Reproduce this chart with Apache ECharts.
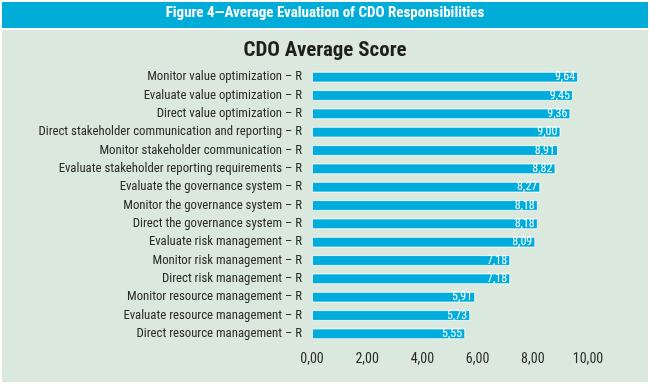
<!DOCTYPE html>
<html><head><meta charset="utf-8">
<script src="https://cdn.jsdelivr.net/npm/echarts@6/dist/echarts.min.js"></script>
<style>html,body{margin:0;padding:0;background:#fff}#c{width:650px;height:386px}</style>
</head><body><div id="c"></div>
<script>
const categories = [
  "Monitor value optimization – R",
  "Evaluate value optimization – R",
  "Direct value optimization – R",
  "Direct stakeholder communication and reporting – R",
  "Monitor stakeholder communication – R",
  "Evaluate stakeholder reporting requirements – R",
  "Evaluate the governance system – R",
  "Monitor the governance system – R",
  "Direct the governance system – R",
  "Evaluate risk management – R",
  "Monitor risk management – R",
  "Direct risk management – R",
  "Monitor resource management – R",
  "Evaluate resource management – R",
  "Direct resource management – R"
];
const scores = [9.64, 9.45, 9.36, 9.00, 8.91, 8.82, 8.27, 8.18, 8.18, 8.09, 7.18, 7.18, 5.91, 5.73, 5.55];
const xTicks = [0, 2, 4, 6, 8, 10];
const headerText = "Figure 4—Average Evaluation of CDO Responsibilities";
const titleText = "CDO Average Score";

const fmt = v => v.toFixed(2).replace('.', ',');
const FONT = '"Roboto Condensed","Liberation Sans Narrow","Roboto",sans-serif';

const chart = echarts.init(document.getElementById('c'), null, {renderer: 'canvas'});
chart.setOption({
  backgroundColor: '#ffffff',
  animation: false,
  graphic: [
    {type: 'rect', shape: {x: 2, y: 2, width: 646, height: 26}, style: {fill: '#00acd8'}, z: -10},
    {type: 'rect', shape: {x: 2, y: 30, width: 646, height: 352}, style: {fill: '#dae8dd'}, z: -10},
    {type: 'text', left: 'center', top: 6, style: {text: headerText, fill: '#ffffff', font: 'bold 15px ' + FONT}, z: 10}
  ],
  title: {
    text: titleText, left: 'center', top: 35,
    textStyle: {fontFamily: FONT, fontSize: 21, fontWeight: 'bold', color: '#1e1e1e'}
  },
  grid: {left: 312, right: 62, top: 68, bottom: 43, containLabel: false},
  xAxis: {
    type: 'value', min: xTicks[0], max: xTicks[xTicks.length - 1], interval: 2,
    axisLine: {show: false}, axisTick: {show: false}, splitLine: {show: false},
    axisLabel: {formatter: fmt, fontFamily: FONT, fontSize: 14, color: '#2a2a2a', margin: 9}
  },
  yAxis: {
    type: 'category', data: categories, inverse: true,
    axisLine: {show: false}, axisTick: {show: false},
    axisLabel: {fontFamily: FONT, fontSize: 12.8, color: '#2a2a2a', margin: 10}
  },
  series: [{
    type: 'bar', data: scores, barWidth: '58%',
    itemStyle: {color: '#00acdc', borderColor: '#ffffff', borderWidth: 0.8},
    label: {show: true, position: 'insideRight', formatter: p => fmt(p.value),
      fontFamily: FONT, fontSize: 12, color: '#ffffff', distance: 3}
  }]
});
</script></body></html>
